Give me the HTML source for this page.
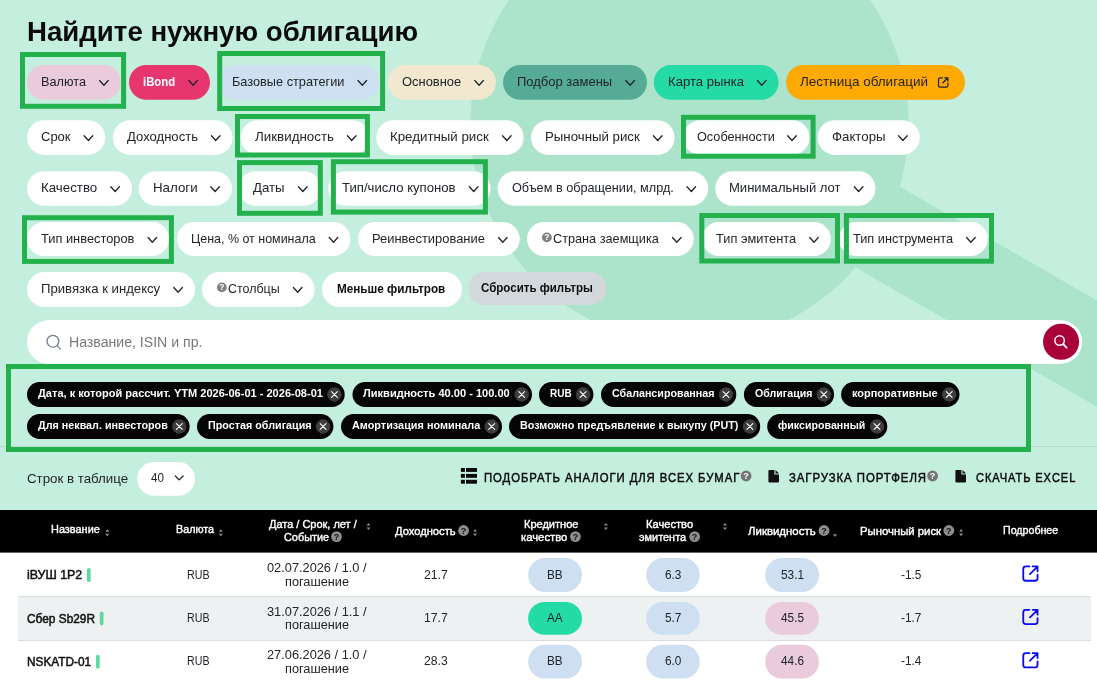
<!DOCTYPE html>
<html lang="ru"><head><meta charset="utf-8"><title>Найдите нужную облигацию</title>
<style>
html,body{margin:0;padding:0;}
body{width:1097px;height:697px;overflow:hidden;position:relative;background:#fff;font-family:"Liberation Sans",Arial,sans-serif;}
.bg,.ov{position:absolute;left:0;top:0;}
.ov{pointer-events:none;}
.b{position:absolute;}
.t{position:absolute;white-space:nowrap;transform-origin:0 0;display:block;}
</style></head><body>
<svg class="bg" width="1097" height="697" viewBox="0 0 1097 697"><rect width="1097" height="515" fill="#c4eedd"/><circle cx="689.5" cy="124.3" r="219.1" fill="#abe3cb"/><rect x="-260" y="-46" width="700" height="92" fill="#abe3cb" transform="translate(990 291.9) rotate(30)"/><rect x="0" y="446" width="1097" height="1" fill="#b4dac9"/><rect x="27.00" y="65.00" width="93.80" height="34.80" rx="17.40" fill="#e9cbdc"/>
<rect x="129.00" y="65.00" width="81.00" height="34.80" rx="17.40" fill="#e6356f"/>
<rect x="218.00" y="65.00" width="161.20" height="34.80" rx="17.40" fill="#cddff0"/>
<rect x="388.00" y="65.00" width="108.00" height="34.80" rx="17.40" fill="#f2e8d0"/>
<rect x="503.00" y="65.00" width="144.00" height="34.80" rx="17.40" fill="#55ab96"/>
<rect x="653.80" y="65.00" width="124.80" height="34.80" rx="17.40" fill="#25dba5"/>
<rect x="786.00" y="65.00" width="179.00" height="34.80" rx="17.40" fill="#ffaa03"/>
<rect x="27.00" y="120.20" width="78.30" height="34.70" rx="17.35" fill="#fff"/>
<rect x="112.80" y="120.20" width="119.80" height="34.70" rx="17.35" fill="#fff"/>
<rect x="240.80" y="120.20" width="128.70" height="34.70" rx="17.35" fill="#fff"/>
<rect x="376.20" y="120.20" width="147.50" height="34.70" rx="17.35" fill="#fff"/>
<rect x="531.00" y="120.20" width="143.60" height="34.70" rx="17.35" fill="#fff"/>
<rect x="683.00" y="120.20" width="126.60" height="34.70" rx="17.35" fill="#fff"/>
<rect x="817.50" y="120.20" width="102.30" height="34.70" rx="17.35" fill="#fff"/>
<rect x="27.00" y="171.20" width="105.00" height="34.60" rx="17.30" fill="#fff"/>
<rect x="138.60" y="171.20" width="93.40" height="34.60" rx="17.30" fill="#fff"/>
<rect x="238.50" y="171.20" width="82.70" height="34.60" rx="17.30" fill="#fff"/>
<rect x="328.20" y="171.20" width="162.40" height="34.60" rx="17.30" fill="#fff"/>
<rect x="497.60" y="171.20" width="210.60" height="34.60" rx="17.30" fill="#fff"/>
<rect x="715.20" y="171.20" width="160.30" height="34.60" rx="17.30" fill="#fff"/>
<rect x="27.00" y="222.00" width="142.20" height="34.00" rx="17.00" fill="#fff"/>
<rect x="177.00" y="222.00" width="173.40" height="34.00" rx="17.00" fill="#fff"/>
<rect x="358.00" y="222.00" width="161.70" height="34.00" rx="17.00" fill="#fff"/>
<rect x="527.00" y="222.00" width="166.70" height="34.00" rx="17.00" fill="#fff"/>
<rect x="702.00" y="222.00" width="128.90" height="34.00" rx="17.00" fill="#fff"/>
<rect x="839.00" y="222.00" width="148.80" height="34.00" rx="17.00" fill="#fff"/>
<rect x="27.00" y="272.00" width="168.00" height="35.00" rx="17.50" fill="#fff"/>
<rect x="202.00" y="272.00" width="112.60" height="35.00" rx="17.50" fill="#fff"/>
<rect x="322.00" y="272.00" width="140.00" height="35.00" rx="17.50" fill="#fff"/>
<rect x="468.20" y="272.00" width="138.40" height="33.00" rx="16.50" fill="#d3d8dc"/>
<rect x="27.00" y="320.00" width="1055.10" height="44.00" rx="22.00" fill="#fff"/>
<rect x="27.00" y="382.00" width="317.70" height="25.00" rx="12.50" fill="#050505"/>
<rect x="352.50" y="382.00" width="179.50" height="25.00" rx="12.50" fill="#050505"/>
<rect x="539.00" y="382.00" width="54.40" height="25.00" rx="12.50" fill="#050505"/>
<rect x="601.00" y="382.00" width="135.30" height="25.00" rx="12.50" fill="#050505"/>
<rect x="743.90" y="382.00" width="90.20" height="25.00" rx="12.50" fill="#050505"/>
<rect x="841.10" y="382.00" width="118.40" height="25.00" rx="12.50" fill="#050505"/>
<rect x="27.00" y="414.00" width="162.60" height="25.00" rx="12.50" fill="#050505"/>
<rect x="197.00" y="414.00" width="136.40" height="25.00" rx="12.50" fill="#050505"/>
<rect x="341.00" y="414.00" width="161.00" height="25.00" rx="12.50" fill="#050505"/>
<rect x="509.00" y="414.00" width="251.20" height="25.00" rx="12.50" fill="#050505"/>
<rect x="767.20" y="414.00" width="120.10" height="25.00" rx="12.50" fill="#050505"/>
<rect x="137.10" y="462.00" width="57.90" height="33.70" rx="16.85" fill="#fff"/>
<rect x="0" y="552" width="1097" height="145" fill="#fff"/>
<rect x="18" y="596" width="1073" height="45" fill="#dadee1"/><rect x="18" y="597" width="1073" height="43" fill="#eef1f2"/>
<rect x="0" y="510" width="1097" height="42.6" fill="#000"/>
<rect x="87.00" y="568.00" width="3.70" height="14.00" rx="1.80" fill="#5dd9a0"/>
<rect x="528.10" y="558.00" width="53.90" height="34.10" rx="17.05" fill="#cddff0"/>
<rect x="646.20" y="558.00" width="53.60" height="34.10" rx="17.05" fill="#cddff0"/>
<rect x="765.20" y="558.00" width="53.80" height="34.10" rx="17.05" fill="#cddff0"/>
<rect x="99.80" y="611.40" width="3.70" height="14.00" rx="1.80" fill="#5dd9a0"/>
<rect x="528.10" y="602.00" width="53.90" height="32.80" rx="16.40" fill="#25dba5"/>
<rect x="646.20" y="602.00" width="53.60" height="32.80" rx="16.40" fill="#cddff0"/>
<rect x="765.20" y="602.00" width="53.80" height="32.80" rx="16.40" fill="#e9cbdc"/>
<rect x="96.00" y="654.70" width="3.70" height="14.00" rx="1.80" fill="#5dd9a0"/>
<rect x="528.10" y="644.80" width="53.90" height="33.80" rx="16.90" fill="#cddff0"/>
<rect x="646.20" y="644.80" width="53.60" height="33.80" rx="16.90" fill="#cddff0"/>
<rect x="765.20" y="644.80" width="53.80" height="33.80" rx="16.90" fill="#e9cbdc"/></svg>
<span class="t" style="left:27.00px;top:17.00px;font-size:27px;line-height:30px;color:#0b0b0b;transform:scaleX(1.0235);font-weight:700;">Найдите нужную облигацию</span>
<span class="t" style="left:41.10px;top:73.75px;font-size:13px;line-height:15px;color:#212529;transform:scaleX(0.9785);">Валюта</span>
<span class="t" style="left:143.10px;top:73.75px;font-size:13px;line-height:15px;color:#fff;transform:scaleX(0.8744);font-weight:700;">iBond</span>
<span class="t" style="left:232.10px;top:73.75px;font-size:13px;line-height:15px;color:#212529;transform:scaleX(0.9801);">Базовые стратегии</span>
<span class="t" style="left:402.10px;top:73.75px;font-size:13px;line-height:15px;color:#212529;transform:scaleX(0.9938);">Основное</span>
<span class="t" style="left:517.10px;top:73.75px;font-size:13px;line-height:15px;color:#212529;transform:scaleX(0.9992);">Подбор замены</span>
<span class="t" style="left:667.90px;top:73.75px;font-size:13px;line-height:15px;color:#212529;transform:scaleX(1.0086);">Карта рынка</span>
<span class="t" style="left:800.10px;top:73.75px;font-size:13px;line-height:15px;color:#212529;transform:scaleX(1.0361);">Лестница облигаций</span>
<span class="t" style="left:41.10px;top:128.95px;font-size:13px;line-height:15px;color:#212529;transform:scaleX(0.9988);">Срок</span>
<span class="t" style="left:126.90px;top:128.95px;font-size:13px;line-height:15px;color:#212529;transform:scaleX(1.0063);">Доходность</span>
<span class="t" style="left:255.00px;top:128.95px;font-size:13px;line-height:15px;color:#212529;transform:scaleX(1.0277);">Ликвидность</span>
<span class="t" style="left:390.30px;top:128.95px;font-size:13px;line-height:15px;color:#212529;transform:scaleX(1.0215);">Кредитный риск</span>
<span class="t" style="left:545.10px;top:128.95px;font-size:13px;line-height:15px;color:#212529;transform:scaleX(1.0195);">Рыночный риск</span>
<span class="t" style="left:697.10px;top:128.95px;font-size:13px;line-height:15px;color:#212529;transform:scaleX(0.9747);">Особенности</span>
<span class="t" style="left:831.60px;top:128.95px;font-size:13px;line-height:15px;color:#212529;transform:scaleX(1.0179);">Факторы</span>
<span class="t" style="left:41.10px;top:179.95px;font-size:13px;line-height:15px;color:#212529;transform:scaleX(1.0225);">Качество</span>
<span class="t" style="left:152.70px;top:179.95px;font-size:13px;line-height:15px;color:#212529;transform:scaleX(1.0233);">Налоги</span>
<span class="t" style="left:253.40px;top:179.95px;font-size:13px;line-height:15px;color:#212529;transform:scaleX(1.0178);">Даты</span>
<span class="t" style="left:342.30px;top:179.95px;font-size:13px;line-height:15px;color:#212529;transform:scaleX(1.0115);">Тип/число купонов</span>
<span class="t" style="left:511.70px;top:179.95px;font-size:13px;line-height:15px;color:#212529;transform:scaleX(0.9745);">Объем в обращении, млрд.</span>
<span class="t" style="left:729.30px;top:179.95px;font-size:13px;line-height:15px;color:#212529;transform:scaleX(1.0037);">Минимальный лот</span>
<span class="t" style="left:41.10px;top:230.75px;font-size:13px;line-height:15px;color:#212529;transform:scaleX(0.9871);">Тип инвесторов</span>
<span class="t" style="left:191.10px;top:230.75px;font-size:13px;line-height:15px;color:#212529;transform:scaleX(0.9585);">Цена, % от номинала</span>
<span class="t" style="left:372.10px;top:230.75px;font-size:13px;line-height:15px;color:#212529;transform:scaleX(0.9938);">Реинвестирование</span>
<span class="t" style="left:553.20px;top:230.75px;font-size:13px;line-height:15px;color:#212529;transform:scaleX(0.9765);">Страна заемщика</span>
<span class="t" style="left:716.10px;top:230.75px;font-size:13px;line-height:15px;color:#212529;transform:scaleX(0.9844);">Тип эмитента</span>
<span class="t" style="left:853.10px;top:230.75px;font-size:13px;line-height:15px;color:#212529;transform:scaleX(0.9804);">Тип инструмента</span>
<span class="t" style="left:41.10px;top:280.75px;font-size:13px;line-height:15px;color:#212529;transform:scaleX(1.0119);">Привязка к индексу</span>
<span class="t" style="left:228.20px;top:280.75px;font-size:13px;line-height:15px;color:#212529;transform:scaleX(0.9581);">Столбцы</span>
<span class="t" style="left:337.40px;top:280.95px;font-size:13px;line-height:15px;color:#0d0d0d;transform:scaleX(0.9003);font-weight:700;">Меньше фильтров</span>
<span class="t" style="left:481.20px;top:280.05px;font-size:13px;line-height:15px;color:#0d0d0d;transform:scaleX(0.8871);font-weight:700;">Сбросить фильтры</span>
<span class="t" style="left:69.20px;top:333.90px;font-size:14px;line-height:16px;color:#787878;transform:scaleX(1.0074);">Название, ISIN и пр.</span>
<span class="t" style="left:37.70px;top:387.00px;font-size:11px;line-height:12px;color:#fff;transform:scaleX(1.0024);font-weight:700;">Дата, к которой рассчит. YTM 2026-06-01 - 2026-08-01</span>
<span class="t" style="left:363.20px;top:387.00px;font-size:11px;line-height:12px;color:#fff;transform:scaleX(1.0049);font-weight:700;">Ликвидность 40.00 - 100.00</span>
<span class="t" style="left:549.70px;top:387.00px;font-size:11px;line-height:12px;color:#fff;transform:scaleX(0.9063);font-weight:700;">RUB</span>
<span class="t" style="left:611.70px;top:387.00px;font-size:11px;line-height:12px;color:#fff;transform:scaleX(0.9731);font-weight:700;">Сбалансированная</span>
<span class="t" style="left:754.60px;top:387.00px;font-size:11px;line-height:12px;color:#fff;transform:scaleX(0.9652);font-weight:700;">Облигация</span>
<span class="t" style="left:851.80px;top:387.00px;font-size:11px;line-height:12px;color:#fff;transform:scaleX(0.9946);font-weight:700;">корпоративные</span>
<span class="t" style="left:37.70px;top:419.00px;font-size:11px;line-height:12px;color:#fff;transform:scaleX(0.9783);font-weight:700;">Для неквал. инвесторов</span>
<span class="t" style="left:207.70px;top:419.00px;font-size:11px;line-height:12px;color:#fff;transform:scaleX(0.9780);font-weight:700;">Простая облигация</span>
<span class="t" style="left:351.70px;top:419.00px;font-size:11px;line-height:12px;color:#fff;transform:scaleX(0.9876);font-weight:700;">Амортизация номинала</span>
<span class="t" style="left:519.70px;top:419.00px;font-size:11px;line-height:12px;color:#fff;transform:scaleX(0.9798);font-weight:700;">Возможно предъявление к выкупу (PUT)</span>
<span class="t" style="left:777.90px;top:419.00px;font-size:11px;line-height:12px;color:#fff;transform:scaleX(0.9674);font-weight:700;">фиксированный</span>
<span class="t" style="left:26.80px;top:471.10px;font-size:13px;line-height:15px;color:#212529;transform:scaleX(1.0223);">Строк в таблице</span>
<span class="t" style="left:151.20px;top:470.30px;font-size:13px;line-height:15px;color:#212529;transform:scaleX(0.8990);">40</span>
<span class="t" style="left:484.00px;top:470.50px;font-size:12px;line-height:14px;color:#0c0c0c;transform:scaleX(0.9430);-webkit-text-stroke:0.45px #0c0c0c;letter-spacing:1px;">ПОДОБРАТЬ АНАЛОГИ ДЛЯ ВСЕХ БУМАГ</span>
<span class="t" style="left:788.70px;top:470.50px;font-size:12px;line-height:14px;color:#0c0c0c;transform:scaleX(0.9488);-webkit-text-stroke:0.45px #0c0c0c;letter-spacing:1px;">ЗАГРУЗКА ПОРТФЕЛЯ</span>
<span class="t" style="left:976.00px;top:470.50px;font-size:12px;line-height:14px;color:#0c0c0c;transform:scaleX(0.9220);-webkit-text-stroke:0.45px #0c0c0c;letter-spacing:1px;">СКАЧАТЬ EXCEL</span>
<span class="t" style="left:51.10px;top:523.10px;font-size:11.5px;line-height:12px;color:#fff;transform:scaleX(0.9496);-webkit-text-stroke:0.4px #fff;">Название</span>
<span class="t" style="left:175.50px;top:523.10px;font-size:11.5px;line-height:12px;color:#fff;transform:scaleX(0.9365);-webkit-text-stroke:0.4px #fff;">Валюта</span>
<span class="t" style="left:268.90px;top:518.00px;font-size:11.5px;line-height:12px;color:#fff;transform:scaleX(0.9538);-webkit-text-stroke:0.4px #fff;">Дата / Срок, лет /</span>
<span class="t" style="left:283.90px;top:530.80px;font-size:11.5px;line-height:12px;color:#fff;transform:scaleX(0.9467);-webkit-text-stroke:0.4px #fff;">Событие</span>
<span class="t" style="left:395.00px;top:525.40px;font-size:11.5px;line-height:12px;color:#fff;transform:scaleX(0.9709);-webkit-text-stroke:0.4px #fff;">Доходность</span>
<span class="t" style="left:523.80px;top:518.00px;font-size:11.5px;line-height:12px;color:#fff;transform:scaleX(0.9580);-webkit-text-stroke:0.4px #fff;">Кредитное</span>
<span class="t" style="left:520.80px;top:530.80px;font-size:11.5px;line-height:12px;color:#fff;transform:scaleX(0.9829);-webkit-text-stroke:0.4px #fff;">качество</span>
<span class="t" style="left:645.90px;top:518.00px;font-size:11.5px;line-height:12px;color:#fff;transform:scaleX(0.9687);-webkit-text-stroke:0.4px #fff;">Качество</span>
<span class="t" style="left:639.20px;top:530.80px;font-size:11.5px;line-height:12px;color:#fff;transform:scaleX(0.9493);-webkit-text-stroke:0.4px #fff;">эмитента</span>
<span class="t" style="left:747.70px;top:525.40px;font-size:11.5px;line-height:12px;color:#fff;transform:scaleX(0.9941);-webkit-text-stroke:0.4px #fff;">Ликвидность</span>
<span class="t" style="left:859.80px;top:525.40px;font-size:11.5px;line-height:12px;color:#fff;transform:scaleX(0.9847);-webkit-text-stroke:0.4px #fff;">Рыночный риск</span>
<span class="t" style="left:1002.70px;top:524.00px;font-size:11.5px;line-height:12px;color:#fff;transform:scaleX(0.9255);-webkit-text-stroke:0.4px #fff;">Подробнее</span>
<span class="t" style="left:26.80px;top:568.30px;font-size:12.5px;line-height:14px;color:#111;transform:scaleX(0.9890);-webkit-text-stroke:0.5px #111;">iВУШ 1P2</span>
<span class="t" style="left:186.75px;top:568.30px;font-size:12px;line-height:14px;color:#212529;transform:scaleX(0.8880);">RUB</span>
<span class="t" style="left:267.05px;top:561.30px;font-size:12px;line-height:14px;color:#212529;transform:scaleX(1.0652);">02.07.2026 / 1.0 /</span>
<span class="t" style="left:285.00px;top:575.20px;font-size:12px;line-height:14px;color:#212529;transform:scaleX(1.0620);">погашение</span>
<span class="t" style="left:423.80px;top:568.30px;font-size:12px;line-height:14px;color:#212529;transform:scaleX(1.0190);">21.7</span>
<span class="t" style="left:547.20px;top:568.30px;font-size:12px;line-height:14px;color:#212529;transform:scaleX(0.9750);">BB</span>
<span class="t" style="left:664.78px;top:568.30px;font-size:12px;line-height:14px;color:#212529;transform:scaleX(0.9850);">6.3</span>
<span class="t" style="left:780.60px;top:568.30px;font-size:12px;line-height:14px;color:#212529;transform:scaleX(0.9850);">53.1</span>
<span class="t" style="left:900.82px;top:568.30px;font-size:12px;line-height:14px;color:#212529;transform:scaleX(0.9850);">-1.5</span>
<span class="t" style="left:26.80px;top:611.70px;font-size:12.5px;line-height:14px;color:#111;transform:scaleX(0.9491);-webkit-text-stroke:0.5px #111;">Сбер Sb29R</span>
<span class="t" style="left:186.75px;top:611.00px;font-size:12px;line-height:14px;color:#212529;transform:scaleX(0.8880);">RUB</span>
<span class="t" style="left:267.05px;top:604.70px;font-size:12px;line-height:14px;color:#212529;transform:scaleX(1.0652);">31.07.2026 / 1.1 /</span>
<span class="t" style="left:285.00px;top:617.80px;font-size:12px;line-height:14px;color:#212529;transform:scaleX(1.0620);">погашение</span>
<span class="t" style="left:423.80px;top:611.00px;font-size:12px;line-height:14px;color:#212529;transform:scaleX(1.0190);">17.7</span>
<span class="t" style="left:547.20px;top:611.00px;font-size:12px;line-height:14px;color:#212529;transform:scaleX(0.9750);">AA</span>
<span class="t" style="left:664.78px;top:611.00px;font-size:12px;line-height:14px;color:#212529;transform:scaleX(0.9850);">5.7</span>
<span class="t" style="left:780.60px;top:611.00px;font-size:12px;line-height:14px;color:#212529;transform:scaleX(0.9850);">45.5</span>
<span class="t" style="left:900.82px;top:611.00px;font-size:12px;line-height:14px;color:#212529;transform:scaleX(0.9850);">-1.7</span>
<span class="t" style="left:26.80px;top:655.00px;font-size:12.5px;line-height:14px;color:#111;transform:scaleX(0.9463);-webkit-text-stroke:0.5px #111;">NSKATD-01</span>
<span class="t" style="left:186.75px;top:654.20px;font-size:12px;line-height:14px;color:#212529;transform:scaleX(0.8880);">RUB</span>
<span class="t" style="left:267.05px;top:648.00px;font-size:12px;line-height:14px;color:#212529;transform:scaleX(1.0652);">27.06.2026 / 1.0 /</span>
<span class="t" style="left:285.00px;top:661.70px;font-size:12px;line-height:14px;color:#212529;transform:scaleX(1.0620);">погашение</span>
<span class="t" style="left:423.80px;top:654.20px;font-size:12px;line-height:14px;color:#212529;transform:scaleX(1.0190);">28.3</span>
<span class="t" style="left:547.20px;top:654.20px;font-size:12px;line-height:14px;color:#212529;transform:scaleX(0.9750);">BB</span>
<span class="t" style="left:664.78px;top:654.20px;font-size:12px;line-height:14px;color:#212529;transform:scaleX(0.9850);">6.0</span>
<span class="t" style="left:780.60px;top:654.20px;font-size:12px;line-height:14px;color:#212529;transform:scaleX(0.9850);">44.6</span>
<span class="t" style="left:900.82px;top:654.20px;font-size:12px;line-height:14px;color:#212529;transform:scaleX(0.9850);">-1.4</span>
<svg class="ov" width="1097" height="697" viewBox="0 0 1097 697">
<polyline points="99.60,80.50 103.90,85.30 108.20,80.50" fill="none" stroke="#212529" stroke-width="1.3" stroke-linecap="round" stroke-linejoin="round"/>
<polyline points="188.80,80.50 193.10,85.30 197.40,80.50" fill="none" stroke="#212529" stroke-width="1.3" stroke-linecap="round" stroke-linejoin="round"/>
<polyline points="358.00,80.50 362.30,85.30 366.60,80.50" fill="none" stroke="#212529" stroke-width="1.3" stroke-linecap="round" stroke-linejoin="round"/>
<polyline points="474.80,80.50 479.10,85.30 483.40,80.50" fill="none" stroke="#212529" stroke-width="1.3" stroke-linecap="round" stroke-linejoin="round"/>
<polyline points="625.80,80.50 630.10,85.30 634.40,80.50" fill="none" stroke="#212529" stroke-width="1.3" stroke-linecap="round" stroke-linejoin="round"/>
<polyline points="757.40,80.50 761.70,85.30 766.00,80.50" fill="none" stroke="#212529" stroke-width="1.3" stroke-linecap="round" stroke-linejoin="round"/>
<path d="M942.51,77.83 H940.18 Q938.53,77.83 938.53,79.47 V85.53 Q938.53,87.17 940.18,87.17 H946.23 Q947.88,87.17 947.88,85.53 V83.19" fill="none" stroke="#212529" stroke-width="1.3" stroke-linecap="round"/>
<path d="M944.71,77.83 H947.88 V80.99 M947.74,77.96 L942.93,82.78" fill="none" stroke="#212529" stroke-width="1.3" stroke-linecap="round" stroke-linejoin="round"/>
<polyline points="84.10,135.70 88.40,140.50 92.70,135.70" fill="none" stroke="#212529" stroke-width="1.3" stroke-linecap="round" stroke-linejoin="round"/>
<polyline points="211.40,135.70 215.70,140.50 220.00,135.70" fill="none" stroke="#212529" stroke-width="1.3" stroke-linecap="round" stroke-linejoin="round"/>
<polyline points="347.40,135.70 351.70,140.50 356.00,135.70" fill="none" stroke="#212529" stroke-width="1.3" stroke-linecap="round" stroke-linejoin="round"/>
<polyline points="502.50,135.70 506.80,140.50 511.10,135.70" fill="none" stroke="#212529" stroke-width="1.3" stroke-linecap="round" stroke-linejoin="round"/>
<polyline points="653.40,135.70 657.70,140.50 662.00,135.70" fill="none" stroke="#212529" stroke-width="1.3" stroke-linecap="round" stroke-linejoin="round"/>
<polyline points="787.70,135.70 792.00,140.50 796.30,135.70" fill="none" stroke="#212529" stroke-width="1.3" stroke-linecap="round" stroke-linejoin="round"/>
<polyline points="898.60,135.70 902.90,140.50 907.20,135.70" fill="none" stroke="#212529" stroke-width="1.3" stroke-linecap="round" stroke-linejoin="round"/>
<polyline points="110.80,186.70 115.10,191.50 119.40,186.70" fill="none" stroke="#212529" stroke-width="1.3" stroke-linecap="round" stroke-linejoin="round"/>
<polyline points="210.80,186.70 215.10,191.50 219.40,186.70" fill="none" stroke="#212529" stroke-width="1.3" stroke-linecap="round" stroke-linejoin="round"/>
<polyline points="298.50,186.70 302.80,191.50 307.10,186.70" fill="none" stroke="#212529" stroke-width="1.3" stroke-linecap="round" stroke-linejoin="round"/>
<polyline points="469.40,186.70 473.70,191.50 478.00,186.70" fill="none" stroke="#212529" stroke-width="1.3" stroke-linecap="round" stroke-linejoin="round"/>
<polyline points="687.00,186.70 691.30,191.50 695.60,186.70" fill="none" stroke="#212529" stroke-width="1.3" stroke-linecap="round" stroke-linejoin="round"/>
<polyline points="854.30,186.70 858.60,191.50 862.90,186.70" fill="none" stroke="#212529" stroke-width="1.3" stroke-linecap="round" stroke-linejoin="round"/>
<polyline points="148.00,237.50 152.30,242.30 156.60,237.50" fill="none" stroke="#212529" stroke-width="1.3" stroke-linecap="round" stroke-linejoin="round"/>
<polyline points="329.20,237.50 333.50,242.30 337.80,237.50" fill="none" stroke="#212529" stroke-width="1.3" stroke-linecap="round" stroke-linejoin="round"/>
<polyline points="498.50,237.50 502.80,242.30 507.10,237.50" fill="none" stroke="#212529" stroke-width="1.3" stroke-linecap="round" stroke-linejoin="round"/>
<circle cx="546.90" cy="237.40" r="4.90" fill="#808080"/>
<text x="546.90" y="240.46" font-size="8.5" font-weight="700" text-anchor="middle" fill="#fff" font-family="Liberation Sans, sans-serif">?</text>
<polyline points="672.50,237.50 676.80,242.30 681.10,237.50" fill="none" stroke="#212529" stroke-width="1.3" stroke-linecap="round" stroke-linejoin="round"/>
<polyline points="809.70,237.50 814.00,242.30 818.30,237.50" fill="none" stroke="#212529" stroke-width="1.3" stroke-linecap="round" stroke-linejoin="round"/>
<polyline points="966.60,237.50 970.90,242.30 975.20,237.50" fill="none" stroke="#212529" stroke-width="1.3" stroke-linecap="round" stroke-linejoin="round"/>
<polyline points="173.80,287.50 178.10,292.30 182.40,287.50" fill="none" stroke="#212529" stroke-width="1.3" stroke-linecap="round" stroke-linejoin="round"/>
<circle cx="221.90" cy="287.40" r="4.90" fill="#808080"/>
<text x="221.90" y="290.46" font-size="8.5" font-weight="700" text-anchor="middle" fill="#fff" font-family="Liberation Sans, sans-serif">?</text>
<polyline points="293.40,287.50 297.70,292.30 302.00,287.50" fill="none" stroke="#212529" stroke-width="1.3" stroke-linecap="round" stroke-linejoin="round"/>
<circle cx="52.9" cy="341.2" r="5.9" fill="none" stroke="#748196" stroke-width="1.3"/>
<path d="M57.2,345.6 L60.4,348.9" stroke="#748196" stroke-width="1.3" stroke-linecap="round"/>
<circle cx="1061.05" cy="341.8" r="18.05" fill="#aa003a"/>
<circle cx="1059.6" cy="340.6" r="4.75" fill="none" stroke="#fff" stroke-width="1.5"/>
<path d="M1063.2,344.2 L1066.6,347.6" stroke="#fff" stroke-width="1.9" stroke-linecap="round"/>
<circle cx="334.40" cy="394.50" r="7.2" fill="#3d3d3d"/>
<path d="M331.50,391.60 L337.30,397.40 M337.30,391.60 L331.50,397.40" stroke="#fff" stroke-width="1.1" stroke-linecap="round"/>
<circle cx="521.70" cy="394.50" r="7.2" fill="#3d3d3d"/>
<path d="M518.80,391.60 L524.60,397.40 M524.60,391.60 L518.80,397.40" stroke="#fff" stroke-width="1.1" stroke-linecap="round"/>
<circle cx="583.10" cy="394.50" r="7.2" fill="#3d3d3d"/>
<path d="M580.20,391.60 L586.00,397.40 M586.00,391.60 L580.20,397.40" stroke="#fff" stroke-width="1.1" stroke-linecap="round"/>
<circle cx="726.00" cy="394.50" r="7.2" fill="#3d3d3d"/>
<path d="M723.10,391.60 L728.90,397.40 M728.90,391.60 L723.10,397.40" stroke="#fff" stroke-width="1.1" stroke-linecap="round"/>
<circle cx="823.80" cy="394.50" r="7.2" fill="#3d3d3d"/>
<path d="M820.90,391.60 L826.70,397.40 M826.70,391.60 L820.90,397.40" stroke="#fff" stroke-width="1.1" stroke-linecap="round"/>
<circle cx="949.20" cy="394.50" r="7.2" fill="#3d3d3d"/>
<path d="M946.30,391.60 L952.10,397.40 M952.10,391.60 L946.30,397.40" stroke="#fff" stroke-width="1.1" stroke-linecap="round"/>
<circle cx="179.30" cy="426.50" r="7.2" fill="#3d3d3d"/>
<path d="M176.40,423.60 L182.20,429.40 M182.20,423.60 L176.40,429.40" stroke="#fff" stroke-width="1.1" stroke-linecap="round"/>
<circle cx="323.10" cy="426.50" r="7.2" fill="#3d3d3d"/>
<path d="M320.20,423.60 L326.00,429.40 M326.00,423.60 L320.20,429.40" stroke="#fff" stroke-width="1.1" stroke-linecap="round"/>
<circle cx="491.70" cy="426.50" r="7.2" fill="#3d3d3d"/>
<path d="M488.80,423.60 L494.60,429.40 M494.60,423.60 L488.80,429.40" stroke="#fff" stroke-width="1.1" stroke-linecap="round"/>
<circle cx="749.90" cy="426.50" r="7.2" fill="#3d3d3d"/>
<path d="M747.00,423.60 L752.80,429.40 M752.80,423.60 L747.00,429.40" stroke="#fff" stroke-width="1.1" stroke-linecap="round"/>
<circle cx="877.00" cy="426.50" r="7.2" fill="#3d3d3d"/>
<path d="M874.10,423.60 L879.90,429.40 M879.90,423.60 L874.10,429.40" stroke="#fff" stroke-width="1.1" stroke-linecap="round"/>
<polyline points="175.30,475.95 179.20,479.85 183.10,475.95" fill="none" stroke="#212529" stroke-width="1.3" stroke-linecap="round" stroke-linejoin="round"/>
<rect x="460.90" y="468.00" width="4" height="3.9" fill="#0a0a0a"/>
<rect x="466.00" y="468.00" width="11" height="3.9" fill="#0a0a0a"/>
<rect x="460.90" y="473.90" width="4" height="3.9" fill="#0a0a0a"/>
<rect x="466.00" y="473.90" width="11" height="3.9" fill="#0a0a0a"/>
<rect x="460.90" y="479.80" width="4" height="3.9" fill="#0a0a0a"/>
<rect x="466.00" y="479.80" width="11" height="3.9" fill="#0a0a0a"/>
<circle cx="746.10" cy="476.00" r="5.40" fill="#757575"/>
<text x="746.10" y="479.24" font-size="9" font-weight="700" text-anchor="middle" fill="#fff" font-family="Liberation Sans, sans-serif">?</text>
<path d="M769.40,469.90 H774.38 V474.52 H779.00 V481.40 Q779.00,482.40 778.00,482.40 H769.40 Q768.40,482.40 768.40,481.40 V470.90 Q768.40,469.90 769.40,469.90 Z" fill="#111"/>
<path d="M775.48,469.90 L779.00,473.42 H775.48 Z" fill="#111"/>
<circle cx="932.60" cy="476.00" r="5.40" fill="#757575"/>
<text x="932.60" y="479.24" font-size="9" font-weight="700" text-anchor="middle" fill="#fff" font-family="Liberation Sans, sans-serif">?</text>
<path d="M956.40,469.90 H961.38 V474.52 H966.00 V481.40 Q966.00,482.40 965.00,482.40 H956.40 Q955.40,482.40 955.40,481.40 V470.90 Q955.40,469.90 956.40,469.90 Z" fill="#111"/>
<path d="M962.48,469.90 L966.00,473.42 H962.48 Z" fill="#111"/>
<path d="M105.30,531.80 L107.30,529.20 L109.30,531.80 Z" fill="#8c8c8c"/>
<path d="M105.30,533.80 L107.30,536.40 L109.30,533.80 Z" fill="#8c8c8c"/>
<path d="M218.80,531.80 L220.80,529.20 L222.80,531.80 Z" fill="#8c8c8c"/>
<path d="M218.80,533.80 L220.80,536.40 L222.80,533.80 Z" fill="#8c8c8c"/>
<circle cx="336.50" cy="536.60" r="5.40" fill="#8d8d8d"/>
<text x="336.50" y="539.84" font-size="9" font-weight="700" text-anchor="middle" fill="#111" font-family="Liberation Sans, sans-serif">?</text>
<path d="M366.50,525.50 L368.50,522.90 L370.50,525.50 Z" fill="#8c8c8c"/>
<path d="M366.50,527.50 L368.50,530.10 L370.50,527.50 Z" fill="#8c8c8c"/>
<circle cx="463.60" cy="530.50" r="5.40" fill="#8d8d8d"/>
<text x="463.60" y="533.74" font-size="9" font-weight="700" text-anchor="middle" fill="#111" font-family="Liberation Sans, sans-serif">?</text>
<path d="M473.10,531.60 L475.10,529.00 L477.10,531.60 Z" fill="#8c8c8c"/>
<path d="M473.10,533.60 L475.10,536.20 L477.10,533.60 Z" fill="#8c8c8c"/>
<circle cx="575.40" cy="536.60" r="5.40" fill="#8d8d8d"/>
<text x="575.40" y="539.84" font-size="9" font-weight="700" text-anchor="middle" fill="#111" font-family="Liberation Sans, sans-serif">?</text>
<path d="M603.90,525.50 L605.90,522.90 L607.90,525.50 Z" fill="#8c8c8c"/>
<path d="M603.90,527.50 L605.90,530.10 L607.90,527.50 Z" fill="#8c8c8c"/>
<circle cx="694.60" cy="536.60" r="5.40" fill="#8d8d8d"/>
<text x="694.60" y="539.84" font-size="9" font-weight="700" text-anchor="middle" fill="#111" font-family="Liberation Sans, sans-serif">?</text>
<path d="M723.00,525.50 L725.00,522.90 L727.00,525.50 Z" fill="#8c8c8c"/>
<path d="M723.00,527.50 L725.00,530.10 L727.00,527.50 Z" fill="#8c8c8c"/>
<circle cx="824.00" cy="530.50" r="5.40" fill="#8d8d8d"/>
<text x="824.00" y="533.74" font-size="9" font-weight="700" text-anchor="middle" fill="#111" font-family="Liberation Sans, sans-serif">?</text>
<path d="M833.00,534.30 L835.00,536.90 L837.00,534.30 Z" fill="#8c8c8c"/>
<circle cx="948.80" cy="530.50" r="5.40" fill="#8d8d8d"/>
<text x="948.80" y="533.74" font-size="9" font-weight="700" text-anchor="middle" fill="#111" font-family="Liberation Sans, sans-serif">?</text>
<path d="M959.10,531.60 L961.10,529.00 L963.10,531.60 Z" fill="#8c8c8c"/>
<path d="M959.10,533.60 L961.10,536.20 L963.10,533.60 Z" fill="#8c8c8c"/>
<path d="M1029.35,566.46 H1025.78 Q1023.26,566.46 1023.26,568.98 V578.22 Q1023.26,580.74 1025.78,580.74 H1035.02 Q1037.54,580.74 1037.54,578.22 V574.65" fill="none" stroke="#0a0af0" stroke-width="1.8" stroke-linecap="round"/>
<path d="M1032.71,566.46 H1037.54 V571.29 M1037.33,566.67 L1029.98,574.02" fill="none" stroke="#0a0af0" stroke-width="1.8" stroke-linecap="round" stroke-linejoin="round"/>
<path d="M1029.35,609.86 H1025.78 Q1023.26,609.86 1023.26,612.38 V621.62 Q1023.26,624.14 1025.78,624.14 H1035.02 Q1037.54,624.14 1037.54,621.62 V618.05" fill="none" stroke="#0a0af0" stroke-width="1.8" stroke-linecap="round"/>
<path d="M1032.71,609.86 H1037.54 V614.69 M1037.33,610.07 L1029.98,617.42" fill="none" stroke="#0a0af0" stroke-width="1.8" stroke-linecap="round" stroke-linejoin="round"/>
<path d="M1029.35,653.16 H1025.78 Q1023.26,653.16 1023.26,655.68 V664.92 Q1023.26,667.44 1025.78,667.44 H1035.02 Q1037.54,667.44 1037.54,664.92 V661.35" fill="none" stroke="#0a0af0" stroke-width="1.8" stroke-linecap="round"/>
<path d="M1032.71,653.16 H1037.54 V657.99 M1037.33,653.37 L1029.98,660.72" fill="none" stroke="#0a0af0" stroke-width="1.8" stroke-linecap="round" stroke-linejoin="round"/>
<rect x="22.50" y="54.50" width="101.10" height="51.80" fill="none" stroke="#22b14c" stroke-width="5.0"/>
<rect x="219.70" y="53.50" width="162.90" height="55.00" fill="none" stroke="#22b14c" stroke-width="5.0"/>
<rect x="237.50" y="116.50" width="129.90" height="38.50" fill="none" stroke="#22b14c" stroke-width="5.0"/>
<rect x="683.50" y="117.30" width="129.60" height="38.90" fill="none" stroke="#22b14c" stroke-width="5.0"/>
<rect x="239.50" y="162.60" width="80.80" height="50.70" fill="none" stroke="#22b14c" stroke-width="5.0"/>
<rect x="333.40" y="161.70" width="152.00" height="50.40" fill="none" stroke="#22b14c" stroke-width="5.0"/>
<rect x="24.50" y="217.70" width="146.90" height="43.70" fill="none" stroke="#22b14c" stroke-width="5.0"/>
<rect x="701.80" y="215.50" width="135.70" height="45.50" fill="none" stroke="#22b14c" stroke-width="5.0"/>
<rect x="846.40" y="215.50" width="145.10" height="45.70" fill="none" stroke="#22b14c" stroke-width="5.0"/>
<rect x="8.50" y="366.50" width="1020.00" height="83.00" fill="none" stroke="#22b14c" stroke-width="5.0"/>
</svg>
</body></html>
